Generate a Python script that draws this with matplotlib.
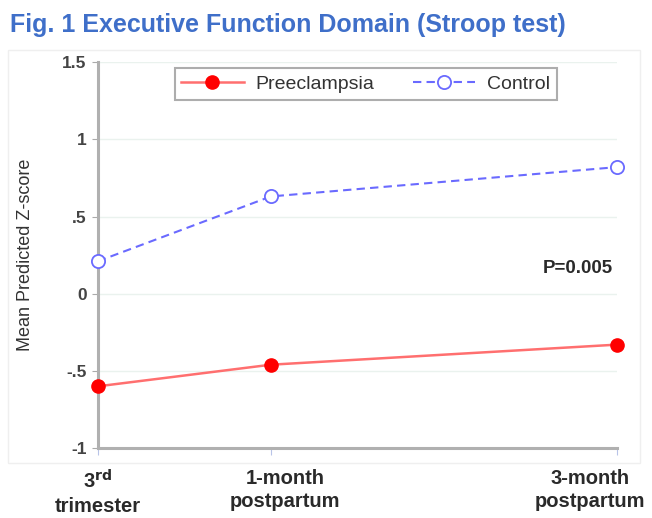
import matplotlib
matplotlib.use("Agg")
import matplotlib.pyplot as plt
from matplotlib.patches import Rectangle

plt.rcParams['font.family'] = ['Liberation Sans', 'DejaVu Sans']

# ── Data ──────────────────────────────────────────────────────────────────────
months = [0, 1, 3]
time_labels = [r"3$^{\mathbf{rd}}$" "\ntrimester", "1-month\npostpartum", "3-month\npostpartum"]
preeclampsia = [-0.60, -0.46, -0.33]
control = [0.21, 0.63, 0.82]
y_ticks = [-1, -0.5, 0, 0.5, 1, 1.5]
y_tick_labels = ["-1", "-.5", "0", ".5", "1", "1.5"]

RED = "#ff0000"
RED_LINE = "#ff6f6f"
BLUE = "#6a6aff"
TITLE_COL = "#3f6fc9"
TXT = "#2a2a2a"

fig = plt.figure(figsize=(6.52, 5.18), dpi=100)
fig.patch.set_facecolor("white")

# faint outer frame around the plot region
fig.add_artist(Rectangle((0.012, 0.106), 0.970, 0.797, transform=fig.transFigure,
                         fill=False, ec="#efefef", lw=1.0))

fig.text(0.016, 0.952, "Fig. 1 Executive Function Domain (Stroop test)",
         color=TITLE_COL, fontsize=18, fontweight="bold", ha="left", va="center")

ax = fig.add_axes([0.150, 0.135, 0.796, 0.745])
ax.plot(months, preeclampsia, color=RED_LINE, lw=1.8, marker="o", ms=9.5,
        mfc=RED, mec=RED, label="Preeclampsia", clip_on=False, zorder=3)
ax.plot(months, control, color=BLUE, lw=1.5, ls=(0, (4, 2.5)), marker="o", ms=9.5,
        mfc="white", mec=BLUE, mew=1.3, label="Control", clip_on=False, zorder=3)

ax.set_xlim(0, 3)
ax.set_ylim(-1, 1.5)
ax.set_yticks(y_ticks)
ax.set_yticklabels(y_tick_labels, fontsize=12.5, color="#444444", fontweight="bold")
ax.set_xticks(months)
ax.set_xticklabels([])
ax.tick_params(axis="y", length=4, color="#aaaaaa", pad=4)
ax.tick_params(axis="x", length=5, color="#b8c4e8")

# x labels placed by hand (3-month label is pulled in from the edge)
label_shift = [0, 14, -27]   # pixels
for m, lab, dx in zip(months, time_labels, label_shift):
    ax.annotate(lab, xy=(m, 0), xycoords=("data", "axes fraction"),
                xytext=(dx * 0.72, -15), textcoords="offset points",
                ha="center", va="top", fontsize=14.5, fontweight="bold",
                color=TXT, linespacing=1.3, annotation_clip=False)

ax.grid(axis="y", color="#eaf2ee", lw=1.0)
ax.set_axisbelow(True)
for s in ["top", "right"]:
    ax.spines[s].set_visible(False)
for s in ["left", "bottom"]:
    ax.spines[s].set_color("#b0b0b0")
    ax.spines[s].set_linewidth(2.2)

ax.set_ylabel("Mean Predicted Z-score", fontsize=13, color="#333333")
ax.yaxis.set_label_coords(-0.122, 0.5)

ax.text(2.975, 0.165, "P=0.005", fontsize=13.5, fontweight="bold",
        ha="right", va="center", color=TXT)

leg = ax.legend(loc="upper center", bbox_to_anchor=(0.516, 0.984), ncol=2,
                frameon=True, fancybox=False, fontsize=14, columnspacing=2.0,
                handlelength=3.2, handletextpad=0.6, borderpad=0.35,
                borderaxespad=0)
leg.get_frame().set_edgecolor("#999999")
leg.get_frame().set_linewidth(1.5)
for t in leg.get_texts():
    t.set_color("#333333")

fig.savefig("out.png", dpi=100)
